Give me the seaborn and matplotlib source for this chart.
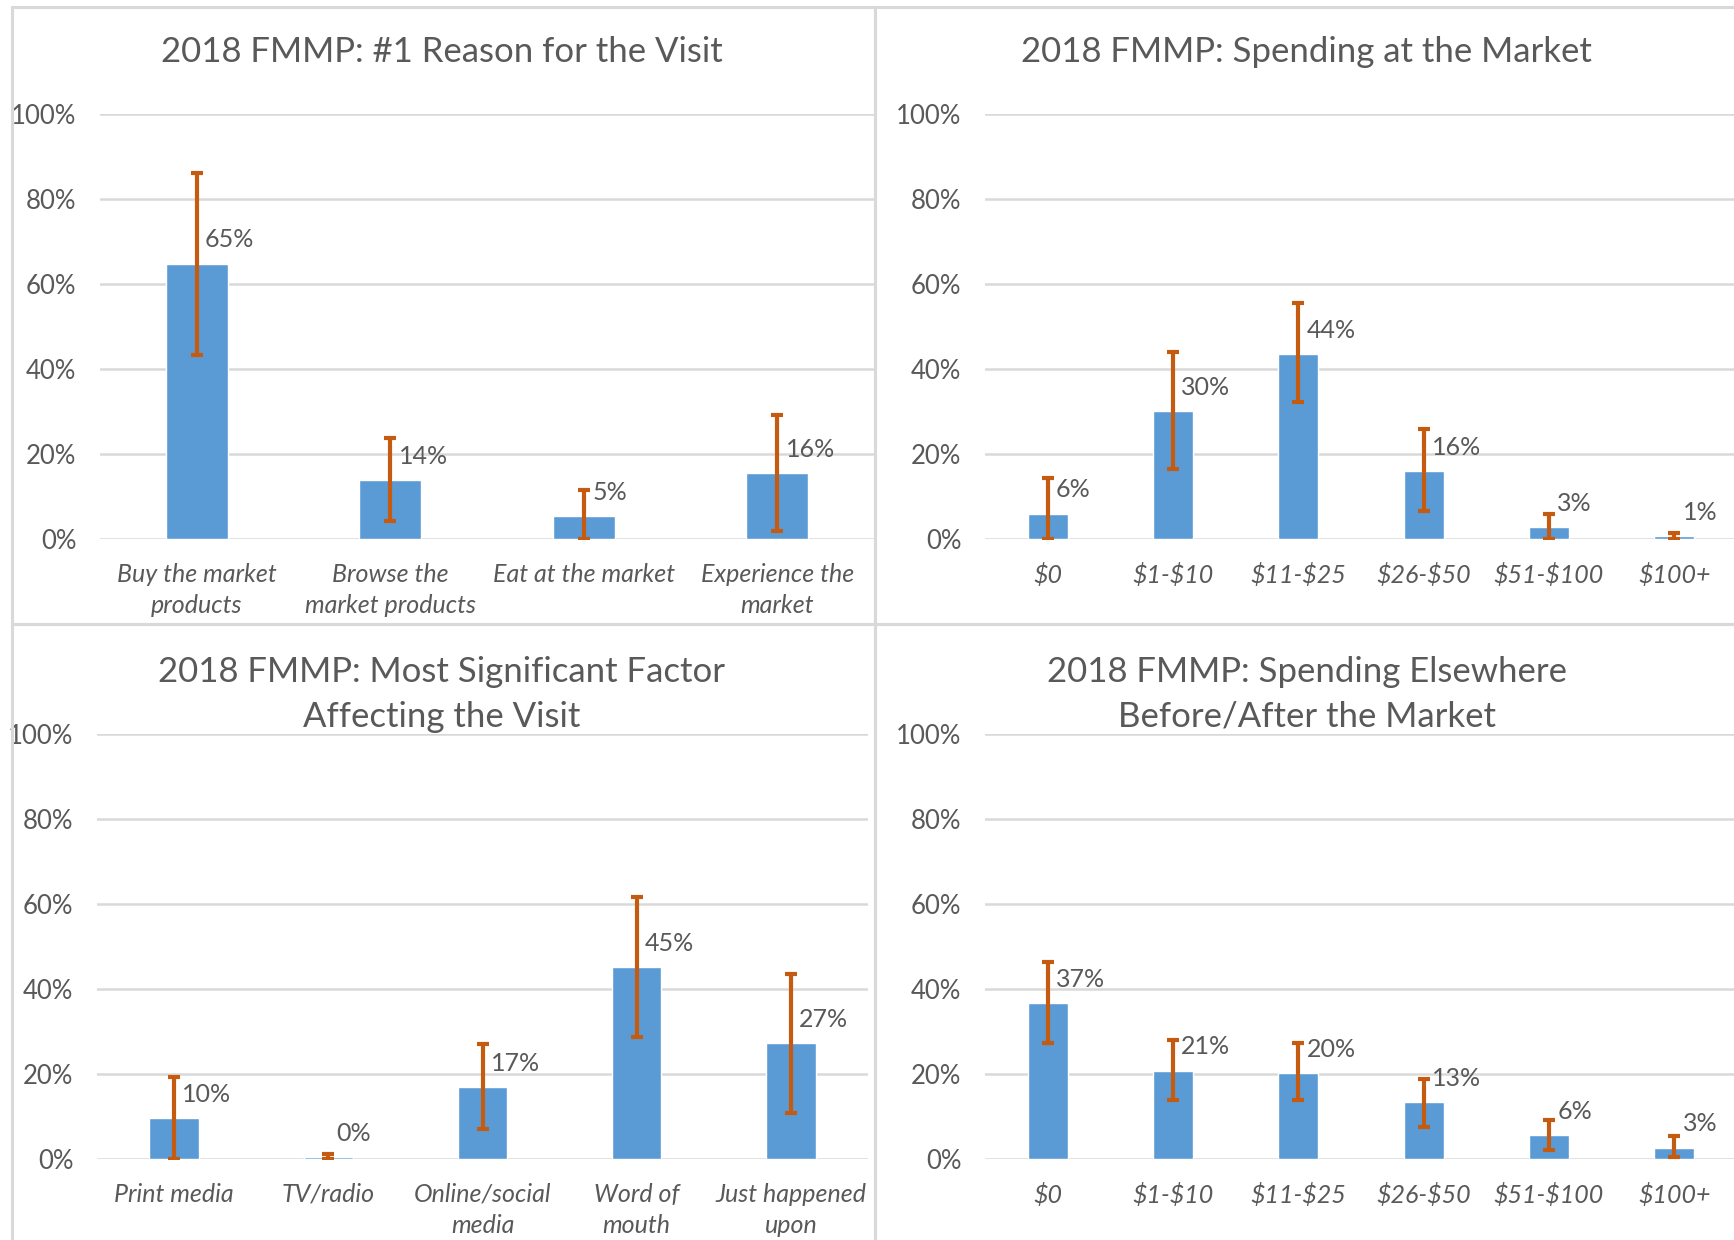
import numpy as np
import matplotlib
matplotlib.use("Agg")
import matplotlib.pyplot as plt
from matplotlib.patches import Rectangle
import seaborn as sns

# Data (percent)
reason_cats = ["Buy the market\nproducts", "Browse the\nmarket products",
               "Eat at the market", "Experience the\nmarket"]
reason_vals = [64.8, 13.8, 5.4, 15.6]
reason_lo = [43.2, 4.2, 0.0, 1.8]
reason_hi = [86.2, 23.7, 11.5, 29.2]

spend_cats = ["$0", "$1-$10", "$11-$25", "$26-$50", "$51-$100", "$100+"]
spend_vals = [6.0, 30.2, 43.6, 15.9, 2.9, 0.6]
spend_lo = [0.0, 16.4, 32.3, 6.5, 0.0, 0.0]
spend_hi = [14.3, 44.0, 55.5, 25.8, 6.0, 1.3]

factor_cats = ["Print media", "TV/radio", "Online/social\nmedia",
               "Word of\nmouth", "Just happened\nupon"]
factor_vals = [9.7, 0.4, 16.9, 45.1, 27.3]
factor_lo = [0.0, 0.0, 7.0, 28.6, 10.9]
factor_hi = [19.3, 1.1, 27.1, 61.7, 43.5]

else_cats = ["$0", "$1-$10", "$11-$25", "$26-$50", "$51-$100", "$100+"]
else_vals = [36.6, 20.8, 20.3, 13.3, 5.6, 2.7]
else_lo = [27.3, 13.8, 13.8, 7.6, 2.1, 0.4]
else_hi = [46.4, 28.1, 27.3, 18.8, 9.1, 5.5]

titles = ["2018 FMMP: #1 Reason for the Visit",
          "2018 FMMP: Spending at the Market",
          "2018 FMMP: Most Significant Factor\nAffecting the Visit",
          "2018 FMMP: Spending Elsewhere\nBefore/After the Market"]

BLUE = "#5B9BD5"
ORANGE = "#C55A11"
GRID = "#D9D9D9"
TEXT = "#595959"

sns.set_style("white")
plt.rcParams["font.family"] = ["Lato", "DejaVu Sans"]
plt.rcParams["text.parse_math"] = False  # keep the $ signs literal

W, H = 1734, 1240
fig = plt.figure(figsize=(W / 100, H / 100), dpi=100)

# panel frames
for (x0, y0, x1, y1) in [(12, 7, 875, 624), (875, 7, 1740, 624),
                         (12, 624, 875, 1250), (875, 624, 1740, 1250)]:
    fig.patches.append(Rectangle((x0 / W, 1 - y1 / H), (x1 - x0) / W, (y1 - y0) / H,
                                 transform=fig.transFigure, fill=False,
                                 edgecolor=GRID, lw=2.2, zorder=0))


def panel(rect, cats, vals, lo, hi, title, title_xy):
    ax = fig.add_axes(rect)
    sns.barplot(x=cats, y=vals, ax=ax, color=BLUE, saturation=1, width=0.32)
    x = np.arange(len(cats))
    v = np.array(vals)
    ax.errorbar(x, v, yerr=[v - np.array(lo), np.array(hi) - v], fmt="none",
                ecolor=ORANGE, elinewidth=3, capsize=4, capthick=3, zorder=3)
    for i, val in enumerate(vals):
        ax.annotate(f"{round(val)}%", (i, val), xytext=(6, 17),
                    textcoords="offset points", ha="left", va="center",
                    fontsize=18, color=TEXT)
    ax.set_xlim(-0.5, len(cats) - 0.5)
    ax.set_ylim(0, 100)
    ax.set_yticks(range(0, 101, 20))
    ax.set_yticklabels([f"{t}%" for t in range(0, 101, 20)])
    ax.yaxis.grid(True, color=GRID, lw=1.8)
    ax.set_axisbelow(True)
    sns.despine(ax=ax, left=True, bottom=True)
    ax.tick_params(axis="y", length=0, pad=17, labelsize=18.5, labelcolor=TEXT)
    ax.tick_params(axis="x", length=0, pad=17, labelsize=18, labelcolor=TEXT)
    for lab in ax.get_xticklabels():
        lab.set_fontstyle("italic")
        lab.set_linespacing(1.45)
    ax.set_xlabel("")
    ax.set_ylabel("")
    fig.text(title_xy[0] / W, 1 - title_xy[1] / H, title, ha="center", va="top",
             fontsize=25, color=TEXT, linespacing=1.5)
    return ax


panel([100 / W, 1 - 539 / H, 774 / W, 425 / H], reason_cats, reason_vals,
      reason_lo, reason_hi, titles[0], (442, 36))
panel([985 / W, 1 - 539 / H, 752 / W, 425 / H], spend_cats, spend_vals,
      spend_lo, spend_hi, titles[1], (1306, 36))
panel([97 / W, 1 - 1159 / H, 771 / W, 425 / H], factor_cats, factor_vals,
      factor_lo, factor_hi, titles[2], (442, 656))
panel([985 / W, 1 - 1159 / H, 752 / W, 425 / H], else_cats, else_vals,
      else_lo, else_hi, titles[3], (1307, 656))

fig.savefig("out.png", dpi=100, facecolor="white")
